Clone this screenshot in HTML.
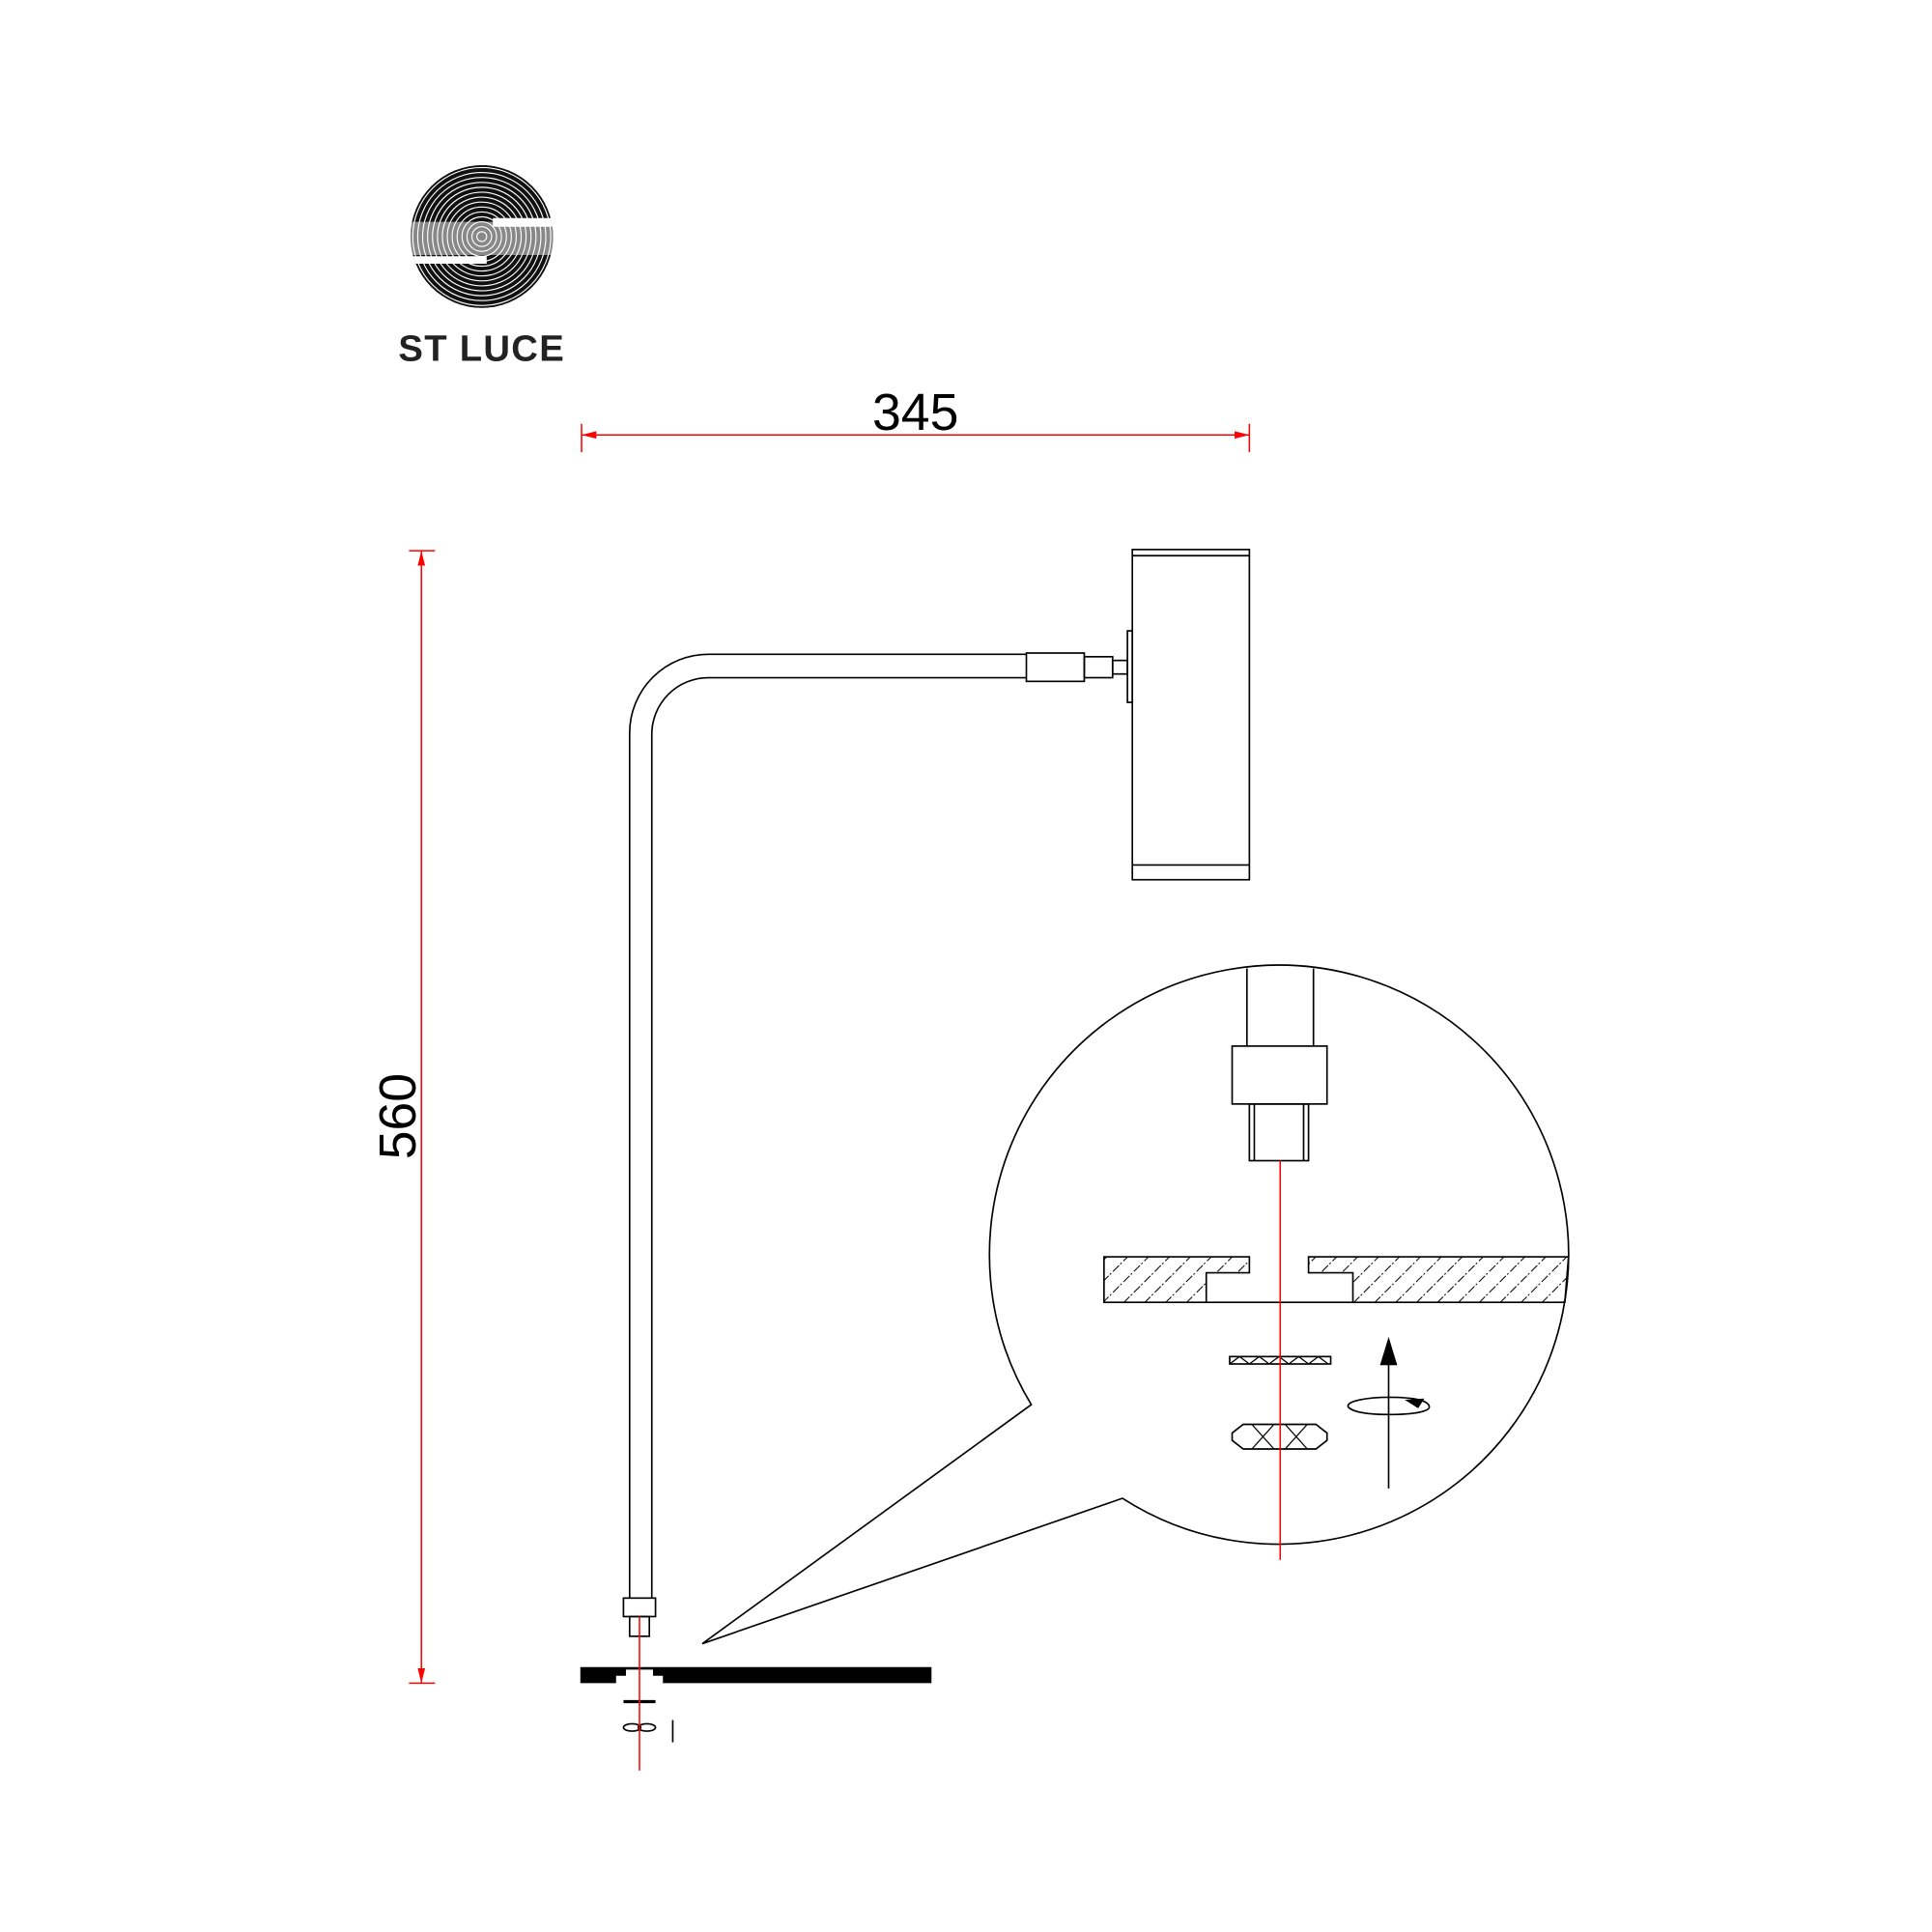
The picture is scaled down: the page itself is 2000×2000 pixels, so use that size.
<!DOCTYPE html>
<html><head><meta charset="utf-8"><style>html,body{margin:0;padding:0;background:#fff}svg{display:block}</style></head>
<body>
<svg width="2000" height="2000" viewBox="0 0 1568 1568" xmlns="http://www.w3.org/2000/svg">
<defs>
<pattern id="h" width="12" height="12" patternUnits="userSpaceOnUse" patternTransform="rotate(45)">
<line x1="0" y1="0" x2="0" y2="12" stroke="#000" stroke-width="1.6" stroke-dasharray="7,2,1.5,2"/>
</pattern>
<clipPath id="lc"><circle cx="391" cy="192" r="58"/></clipPath>
</defs>
<rect width="1568" height="1568" fill="#fff"/>
<!-- logo -->
<g clip-path="url(#lc)">
<circle cx="391" cy="192" r="58" fill="#111"/>
<g fill="none" stroke="#fff" stroke-width="0.9">
<circle cx="391" cy="192" r="4"/><circle cx="391" cy="192" r="8"/><circle cx="391" cy="192" r="12"/><circle cx="391" cy="192" r="16"/><circle cx="391" cy="192" r="20"/><circle cx="391" cy="192" r="24"/><circle cx="391" cy="192" r="28"/><circle cx="391" cy="192" r="32"/><circle cx="391" cy="192" r="36"/><circle cx="391" cy="192" r="40"/><circle cx="391" cy="192" r="44"/><circle cx="391" cy="192" r="48"/><circle cx="391" cy="192" r="52"/><circle cx="391" cy="192" r="56"/>
</g>
<path d="M330,180 H452 V207 H330 Z" fill="#fff" opacity="0.5"/>
<path d="M400,177 H452 V184 H400 Z" fill="#fff"/>
<path d="M330,208 H395 V214 H330 Z" fill="#fff"/>
</g>
<text x="391" y="293" font-family="Liberation Sans, sans-serif" font-weight="bold" font-size="30" letter-spacing="1" text-anchor="middle" fill="#222">ST LUCE</text>
<text x="743" y="349" font-family="Liberation Sans, sans-serif" font-size="42" text-anchor="middle">345</text>
<text transform="translate(337,906) rotate(-90)" font-family="Liberation Sans, sans-serif" font-size="42" text-anchor="middle">560</text>
<g fill="none" stroke="#000" stroke-width="1.3">
<rect x="919" y="446" width="95" height="268"/><line x1="919" y1="451" x2="1014" y2="451"/><line x1="919" y1="702" x2="1014" y2="702"/>
<rect x="915" y="512" width="4" height="58"/>
<rect x="833" y="530" width="47" height="23"/><rect x="880" y="533" width="23" height="17"/><rect x="903" y="536" width="12" height="11"/>
<path d="M833,531 H575 A64,64 0 0 0 511,595 V1297"/>
<path d="M833,550 H575 A46,46 0 0 0 529,596 V1297"/>
<rect x="506" y="1297" width="26" height="15"/><rect x="511" y="1312" width="16" height="16"/>
<line x1="506" y1="1381" x2="532" y2="1381" stroke-width="2.5"/>
<ellipse cx="513" cy="1402" rx="7" ry="3"/><ellipse cx="525" cy="1402" rx="7" ry="3"/>
<line x1="546" y1="1396" x2="546" y2="1414"/>
<path d="M837,1140 L570,1334 L911,1216 A235,235 0 1 0 837,1140 Z" fill="#fff"/>
<line x1="1012" y1="786" x2="1012" y2="849"/><line x1="1066" y1="786" x2="1066" y2="849"/>
<rect x="1000" y="849" width="77" height="47"/>
<rect x="1014" y="896" width="48" height="46"/><line x1="1018" y1="896" x2="1018" y2="942"/><line x1="1058" y1="896" x2="1058" y2="942"/>
<path d="M896,1020 H1014 V1033 H979 V1057 H896 Z" fill="url(#h)"/>
<path d="M1062,1020 H1273 L1270,1057 H1098 V1033 H1062 Z" fill="url(#h)"/>
<line x1="979" y1="1057" x2="1098" y2="1057"/>
<rect x="998" y="1101" width="82" height="6"/>
<path d="M998,1107 l8,-6 l8,6 l8,-6 l8,6 l8,-6 l8,6 l8,-6 l8,6 l8,-6 l8,6" stroke-width="1"/>
<path d="M1009,1156 H1068 L1077,1163 V1169 L1068,1176 H1009 L1000,1169 V1163 Z"/>
<path d="M1016,1156 L1025,1166 L1016,1176 M1034,1156 L1025,1166 L1034,1176 M1043,1156 L1052,1166 L1043,1176 M1061,1156 L1052,1166 L1061,1176" stroke-width="1"/>
<line x1="1127" y1="1208" x2="1127" y2="1100"/>
<path d="M1127,1148 C1100,1148 1094,1143 1094,1141 C1094,1137 1110,1134 1127,1134 C1150,1134 1160,1137 1160,1142 C1160,1145 1150,1148 1127,1148"/>
</g>
<path d="M1127,1085 l-7,23 h14z" fill="#000"/>
<path d="M1140,1136 l16,-1 l-5,8z" fill="#000"/>
<path d="M471,1353 H756 V1366 H471 Z M500,1366 V1360 H508 V1355 H530 V1360 H538 V1366 Z" fill="#000" fill-rule="evenodd"/>
<g stroke="red" stroke-width="1.2">
<line x1="472" y1="353" x2="1014" y2="353"/><line x1="472" y1="344" x2="472" y2="367"/><line x1="1014" y1="344" x2="1014" y2="367"/>
<line x1="342" y1="447" x2="342" y2="1366"/><line x1="332" y1="447" x2="353" y2="447"/><line x1="332" y1="1366" x2="353" y2="1366"/>
<line x1="519" y1="1312" x2="519" y2="1437"/>
<line x1="1039" y1="942" x2="1039" y2="1266"/>
</g>
<g fill="red"><path d="M472,353 l12,-3 v6z"/><path d="M1014,353 l-12,-3 v6z"/><path d="M342,447 l-3,12 h6z"/><path d="M342,1366 l-3,-12 h6z"/></g>
</svg>
</body></html>
